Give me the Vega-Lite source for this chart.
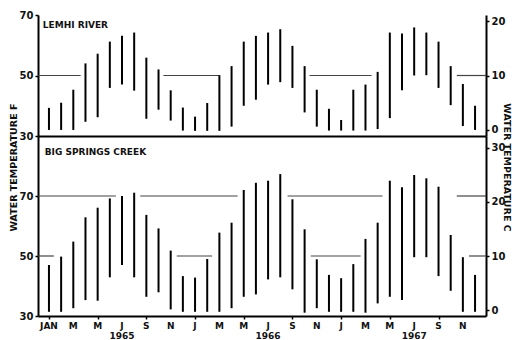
{
  "$schema": "https://vega.github.io/schema/vega-lite/v6.json",
  "background": "white",
  "padding": {"left": 7, "top": 10, "right": 4, "bottom": 2},
  "spacing": 0,
  "bounds": "flush",
  "config": {
    "view": {"stroke": null},
    "axis": {
      "grid": false,
      "labelFont": "DejaVu Sans", "labelFontWeight": "bold", "labelFontSize": 9, "labelColor": "#111",
      "titleFont": "DejaVu Sans", "titleFontWeight": "bold", "titleFontSize": 9.5, "titleColor": "#111",
      "domainColor": "#000", "tickColor": "#000", "domainWidth": 2, "tickSize": 3, "tickWidth": 1.5
    }
  },
  "datasets": {
    "lemhi": [
      {"month": 0, "low": 32, "high": 39.3}, {"month": 1, "low": 32, "high": 41}, {"month": 2, "low": 32, "high": 45.3},
      {"month": 3, "low": 34.7, "high": 54}, {"month": 4, "low": 36.2, "high": 57.2}, {"month": 5, "low": 45.9, "high": 61.2},
      {"month": 6, "low": 47, "high": 63.1}, {"month": 7, "low": 45, "high": 64.2}, {"month": 8, "low": 35.7, "high": 55.9},
      {"month": 9, "low": 38.7, "high": 52}, {"month": 10, "low": 35.1, "high": 45.1}, {"month": 11, "low": 31.8, "high": 39.4},
      {"month": 12, "low": 31.7, "high": 36.4}, {"month": 13, "low": 31.7, "high": 40.9}, {"month": 14, "low": 31.7, "high": 50.1},
      {"month": 15, "low": 33.1, "high": 53.1}, {"month": 16, "low": 40, "high": 61.2}, {"month": 17, "low": 42, "high": 63.1},
      {"month": 18, "low": 47, "high": 64.2}, {"month": 19, "low": 47.8, "high": 65.3}, {"month": 20, "low": 45.9, "high": 59.8},
      {"month": 21, "low": 37.8, "high": 53.1}, {"month": 22, "low": 33.1, "high": 45.3}, {"month": 23, "low": 31.8, "high": 39},
      {"month": 24, "low": 31.8, "high": 35.3}, {"month": 25, "low": 31.8, "high": 45.3}, {"month": 26, "low": 31.8, "high": 47},
      {"month": 27, "low": 32.3, "high": 51.2}, {"month": 28, "low": 35.9, "high": 64.2}, {"month": 29, "low": 45.1, "high": 63.9},
      {"month": 30, "low": 50, "high": 65.9}, {"month": 31, "low": 50.1, "high": 64.2}, {"month": 32, "low": 45.9, "high": 61.2},
      {"month": 33, "low": 40.2, "high": 53.1}, {"month": 34, "low": 33.3, "high": 47.2}, {"month": 35, "low": 32, "high": 40}
    ],
    "big": [
      {"month": 0, "low": 31.4, "high": 47}, {"month": 1, "low": 31.4, "high": 49.8}, {"month": 2, "low": 32.6, "high": 54.8},
      {"month": 3, "low": 35.3, "high": 62.9}, {"month": 4, "low": 35.1, "high": 66.1}, {"month": 5, "low": 42.9, "high": 69.2},
      {"month": 6, "low": 47, "high": 70}, {"month": 7, "low": 42.9, "high": 71.1}, {"month": 8, "low": 36.4, "high": 63.7},
      {"month": 9, "low": 37.9, "high": 59.2}, {"month": 10, "low": 32.2, "high": 51.8}, {"month": 11, "low": 31.4, "high": 43.3},
      {"month": 12, "low": 31.4, "high": 42.8}, {"month": 13, "low": 31.4, "high": 49}, {"month": 14, "low": 31.4, "high": 57.8},
      {"month": 15, "low": 32.6, "high": 61.1}, {"month": 16, "low": 36.4, "high": 72}, {"month": 17, "low": 37.2, "high": 74.4},
      {"month": 18, "low": 42.2, "high": 75.1}, {"month": 19, "low": 42.9, "high": 77.3}, {"month": 20, "low": 38.9, "high": 68.9},
      {"month": 21, "low": 31.1, "high": 58.9}, {"month": 22, "low": 32.6, "high": 48.9}, {"month": 23, "low": 31.4, "high": 43.7},
      {"month": 24, "low": 31.4, "high": 42.6}, {"month": 25, "low": 31.4, "high": 47.3}, {"month": 26, "low": 31.1, "high": 55.7},
      {"month": 27, "low": 34.2, "high": 61.1}, {"month": 28, "low": 36.4, "high": 75.1}, {"month": 29, "low": 35.3, "high": 72.9},
      {"month": 30, "low": 49.6, "high": 77}, {"month": 31, "low": 49.6, "high": 75.9}, {"month": 32, "low": 43.3, "high": 73.1},
      {"month": 33, "low": 38.4, "high": 57}, {"month": 34, "low": 31.4, "high": 49.6}, {"month": 35, "low": 31.4, "high": 43.7}
    ],
    "lemhiLines": [
      {"start": -0.9, "end": 2.6, "f": 50}, {"start": 9.4, "end": 14.0, "f": 50},
      {"start": 21.4, "end": 26.5, "f": 50}, {"start": 33.5, "end": 35.9, "f": 50}
    ],
    "bigLines": [
      {"start": -0.9, "end": 5.5, "f": 70}, {"start": 7.5, "end": 15.5, "f": 70},
      {"start": 19.6, "end": 27.4, "f": 70}, {"start": 33.5, "end": 35.9, "f": 70},
      {"start": -0.9, "end": 0.4, "f": 50}, {"start": 10.5, "end": 13.4, "f": 50},
      {"start": 21.5, "end": 25.6, "f": 50}, {"start": 34.5, "end": 35.9, "f": 50}
    ],
    "monthLabels": [
      {"month": 0, "label": "JAN"}, {"month": 2, "label": "M"}, {"month": 4, "label": "M"}, {"month": 6, "label": "J"},
      {"month": 8, "label": "S"}, {"month": 10, "label": "N"}, {"month": 12, "label": "J"}, {"month": 14, "label": "M"},
      {"month": 16, "label": "M"}, {"month": 18, "label": "J"}, {"month": 20, "label": "S"}, {"month": 22, "label": "N"},
      {"month": 24, "label": "J"}, {"month": 26, "label": "M"}, {"month": 28, "label": "M"}, {"month": 30, "label": "J"},
      {"month": 32, "label": "S"}, {"month": 34, "label": "N"}
    ],
    "years": [
      {"month": 6, "year": "1965"}, {"month": 18, "year": "1966"}, {"month": 30, "year": "1967"}
    ]
  },
  "vconcat": [
    {
      "width": 448,
      "height": 121,
      "layer": [
        {
          "layer": [
            {
              "data": {"name": "lemhiLines"},
              "mark": {"type": "rule", "color": "#444", "strokeWidth": 1.2},
              "encoding": {
                "x": {"field": "start", "type": "quantitative", "scale": {"domain": [-0.9, 35.9], "nice": false, "zero": false},
                      "axis": {"labels": false, "ticks": false, "title": null}},
                "x2": {"field": "end"},
                "y": {"field": "f", "type": "quantitative", "scale": {"domain": [30, 70], "nice": false, "zero": false},
                      "axis": {"values": [30, 50, 70], "title": null, "labelFontSize": 10}}
              }
            },
            {
              "data": {"name": "lemhi"},
              "mark": {"type": "rule", "color": "#000", "strokeWidth": 2},
              "encoding": {
                "x": {"field": "month", "type": "quantitative"},
                "y": {"field": "low", "type": "quantitative"},
                "y2": {"field": "high"}
              }
            },
            {
              "data": {"values": [{}]},
              "mark": {"type": "text", "text": "LEMHI RIVER", "align": "left", "baseline": "middle",
                       "font": "DejaVu Sans", "fontWeight": "bold", "fontSize": 9, "color": "#111"},
              "encoding": {"x": {"datum": -0.5}, "y": {"datum": 66.7}}
            }
          ]
        },
        {
          "data": {"values": [{}]},
          "mark": {"type": "rule", "opacity": 0},
          "encoding": {
            "y": {"datum": 0, "type": "quantitative", "scale": {"domain": [-1.1111, 21.1111], "nice": false, "zero": false},
                  "axis": {"orient": "right", "values": [0, 10, 20], "title": null, "labelFontSize": 10}}
          }
        }
      ],
      "resolve": {"scale": {"y": "independent"}, "axis": {"y": "independent"}}
    },
    {
      "width": 448,
      "height": 180,
      "layer": [
        {
          "layer": [
            {
              "data": {"name": "big"},
              "mark": {"type": "rule", "color": "#000", "strokeWidth": 2},
              "encoding": {
                "x": {"field": "month", "type": "quantitative", "scale": {"domain": [-0.9, 35.9], "nice": false, "zero": false},
                      "axis": {"values": [0, 2, 4, 6, 8, 10, 12, 14, 16, 18, 20, 22, 24, 26, 28, 30, 32, 34], "title": null,
                               "labels": false}},
                "y": {"field": "low", "type": "quantitative", "scale": {"domain": [30, 90], "nice": false, "zero": false},
                      "axis": {"values": [30, 50, 70], "labelFontSize": 10, "title": "WATER TEMPERATURE F",
                               "titleX": -25, "titleY": 31, "titleAngle": 270, "titleAlign": "center", "titleBaseline": "middle"}},
                "y2": {"field": "high"}
              }
            },
            {
              "data": {"name": "bigLines"},
              "mark": {"type": "rule", "color": "#444", "strokeWidth": 1.2},
              "encoding": {
                "x": {"field": "start", "type": "quantitative"},
                "x2": {"field": "end"},
                "y": {"field": "f", "type": "quantitative"}
              }
            },
            {
              "data": {"values": [{}]},
              "mark": {"type": "text", "text": "BIG SPRINGS CREEK", "align": "left", "baseline": "middle",
                       "font": "DejaVu Sans", "fontWeight": "bold", "fontSize": 9, "color": "#111"},
              "encoding": {"x": {"datum": -0.35}, "y": {"datum": 84.7}}
            },
            {
              "data": {"name": "monthLabels"},
              "mark": {"type": "text", "align": "center", "baseline": "middle", "clip": false,
                       "font": "DejaVu Sans", "fontWeight": "bold", "fontSize": 9, "color": "#111"},
              "encoding": {"x": {"field": "month", "type": "quantitative"}, "y": {"datum": 26.7}, "text": {"field": "label"}}
            },
            {
              "data": {"name": "years"},
              "mark": {"type": "text", "align": "center", "baseline": "middle", "clip": false,
                       "font": "DejaVu Sans", "fontWeight": "bold", "fontSize": 9, "color": "#111"},
              "encoding": {"x": {"field": "month", "type": "quantitative"}, "y": {"datum": 23.2}, "text": {"field": "year"}}
            }
          ]
        },
        {
          "data": {"values": [{}]},
          "mark": {"type": "rule", "opacity": 0},
          "encoding": {
            "y": {"datum": 0, "type": "quantitative", "scale": {"domain": [-1.1111, 32.2222], "nice": false, "zero": false},
                  "axis": {"orient": "right", "values": [0, 10, 20, 30], "labelFontSize": 10, "title": "WATER TEMPERATURE C",
                           "titleX": 20, "titleY": 31, "titleAngle": 90, "titleAlign": "center", "titleBaseline": "middle"}}
          }
        }
      ],
      "resolve": {"scale": {"y": "independent"}, "axis": {"y": "independent"}}
    }
  ]
}
